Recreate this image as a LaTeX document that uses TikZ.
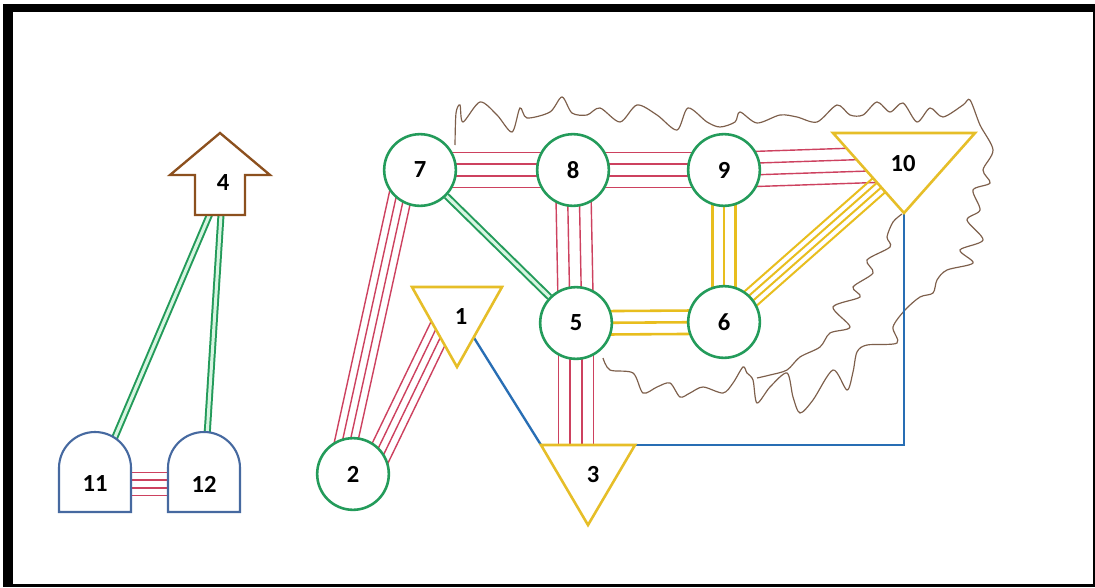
\documentclass[tikz,border=0pt]{standalone}
\usepackage{fontspec}
\setmainfont{Carlito}
\usetikzlibrary{calc,backgrounds}
\definecolor{hubgreen}{RGB}{35,155,90}
\definecolor{palegreen}{RGB}{215,245,225}
\definecolor{redcol}{RGB}{205,65,95}
\definecolor{goldcol}{RGB}{232,190,30}
\definecolor{trigold}{RGB}{230,190,40}
\definecolor{wireblue}{RGB}{40,110,180}
\definecolor{domeblue}{RGB}{70,105,160}
\definecolor{arrowbrown}{RGB}{140,80,30}
\definecolor{cloudbrown}{RGB}{125,95,75}
\begin{document}
\begin{tikzpicture}[x=0.03cm, y=-0.03cm]
		\tikzset{
			tri/.pic = {
					\path [pic actions] (-#1,-30) -- (#1,-30) -- (0,50) -- cycle;
					\coordinate (-nw) at (-#1,-30);
					\coordinate (-ne) at (#1,-30);
					\coordinate (-tip) at (0,50);
				},
			dome/.pic = {
					\path [pic actions] (-36,28) -- (-36,-16) arc[start angle=180, end angle=360, radius=36] -- (36,28) -- cycle;
				},
			up arrow/.pic = {
					\path [pic actions] (-25,30) -- (-25,-10) -- (-50,-10) -- (0,-52) -- (50,-10) -- (25,-10) -- (25,30) -- cycle;
				},
			hub/.style = {circle, draw=hubgreen, fill=white, line width=2.2pt, minimum size=2.15cm, inner sep=0pt, font=\fontsize{21}{21}\selectfont\bfseries},
			tag/.style = {inner sep=0pt, font=\fontsize{21}{21}\selectfont\bfseries},
			tribox/.style = {draw=trigold, fill=white, line width=2.2pt, line join=miter},
			domebox/.style = {draw=domeblue, fill=white, line width=1.8pt},
			arrowbox/.style = {draw=arrowbrown, fill=white, line width=2pt},
			redline/.style = {draw=redcol, line width=1.2pt},
			goldline/.style = {draw=goldcol, line width=2.2pt},
			twin/.style = {draw=hubgreen, double=palegreen, double distance=2.6pt, line width=1.7pt},
			wire/.style = {draw=wireblue, line width=2pt},
			scrawl/.style = {draw=cloudbrown, line width=1pt}
		}
		\useasboundingbox (0,0) rectangle (1095,587);
		\begin{pgfonlayer}{background}
			\fill[white] (0,0) rectangle (1095,587);
			\fill[black] (3,4) rectangle (1095,587);
			\fill[white] (13,12) rectangle (1093,584);
		\end{pgfonlayer}

		% shapes
		\pic[arrowbox] (a4) at (220,185) {up arrow};
		\pic[domebox] (d11) at (95,484) {dome};
		\pic[domebox] (d12) at (204,484) {dome};
		\pic[tribox] (t1) at (457,317) {tri=45};
		\pic[tribox] (t3) at (588,475) {tri=47};
		\pic[tribox] (t10) at (904,163) {tri=71};

		% nodes
		\node[tag] (n4) at (223,183) {4};
		\node[tag] (n11) at (95,484) {11};
		\node[tag] (n12) at (204,484) {12};
		\node[tag] (n1) at (461,317) {1};
		\node[tag] (n3) at (593,475) {3};
		\node[tag] (n10) at (903,164) {10};
		\node[hub] (n2) at (353,474) {2};
		\node[hub] (n7) at (420,170) {7};
		\node[hub] (n8) at (573,170) {8};
		\node[hub] (n9) at (724,170) {9};
		\node[hub] (n5) at (576,323) {5};
		\node[hub] (n6) at (724,322) {6};

		\begin{pgfonlayer}{background}
			% cloud
			\draw[scrawl] plot[smooth, tension=0.5] coordinates {(455,145) (456,113) (460,105) (463,122) (480,102) (497,115) (512,132) (520,108) (527,118) (550,112) (562,97) (572,113) (587,115) (600,108) (620,122) (637,105) (657,115) (677,130) (688,108) (707,122) (720,127) (735,122) (740,112) (757,123) (780,115) (797,117) (817,122) (837,105) (850,115) (863,115) (877,102) (890,112) (903,103) (917,122) (930,108) (943,117) (963,105) (970,100) (980,125) (993,150) (983,170) (990,183) (973,190) (980,210) (967,220) (983,240) (960,250) (973,263) (947,270) (937,280) (933,293) (920,297) (905,310) (893,327) (897,343) (867,345) (857,352) (853,372) (847,390) (833,370) (813,400) (800,413) (793,397) (787,373) (770,387) (757,403) (753,380) (747,373) (743,367) (733,383) (723,393) (703,387) (690,393) (680,397) (670,383) (657,387) (643,393) (633,373) (610,370) (603,358)};
			\draw[scrawl] plot[smooth, tension=0.5] coordinates {(902,214) (893,222) (887,237) (890,247) (867,260) (873,273) (853,287) (860,297) (833,307) (850,327) (830,333) (820,347) (800,357) (787,370) (770,375) (757,378)};

			% red bundles
			\foreach \k in {-15pt,-5pt,5pt,15pt} {
				\draw[redline] ($(n7)!\k!90:(n8)$) -- ($(n8)!\k!-90:(n7)$);
				\draw[redline] ($(n8)!\k!90:(n9)$) -- ($(n9)!\k!-90:(n8)$);
				\draw[redline] ($(n9)!\k!90:(n10)$) -- ($(n10)!\k!-90:(n9)$);
				\draw[redline] ($(n8)!\k!90:(n5)$) -- ($(n5)!\k!-90:(n8)$);
				\draw[redline] ($(n5)!\k!90:(n5 |- n3)$) -- ($(n5 |- n3)!\k!-90:(n5)$);
			}
			\foreach \k in {-9.75pt,-3.25pt,3.25pt,9.75pt} {
				\draw[redline] ($($(n7)+(-14,0)$)!\k!90:($(n2)+(-14,0)$)$) -- ($($(n2)+(-14,0)$)!\k!-90:($(n7)+(-14,0)$)$);
				\draw[redline] ($($(n1)+(-15,0)$)!\k!90:($(n2)+(17,0)$)$) -- ($($(n2)+(17,0)$)!\k!-90:($(n1)+(-15,0)$)$);
				\draw[redline] ($(n11)!\k!90:(n12)$) -- ($(n12)!\k!-90:(n11)$);
			}

			% gold bundles
			\foreach \k in {-10pt,0pt,10pt} {
				\draw[goldline] ($(n5)!\k!90:(n6)$) -- ($(n6)!\k!-90:(n5)$);
				\draw[goldline] ($(n9)!\k!90:(n6)$) -- ($(n6)!\k!-90:(n9)$);
			}
			\foreach \k in {-8pt,-2.7pt,2.7pt,8pt}
				\draw[goldline, line width=1.7pt] ($(n6)!\k!90:(n10)$) -- ($(n10)!\k!-90:(n6)$);

			% green links
			\draw[twin] (n7) -- (n5);
			\draw[twin] (n4) -- (n11);
			\draw[twin] (n4) -- (n12);

			% blue wires
			\draw[wire] (n1) -- (t3-nw);
			\draw[wire] (t3-ne) -| (t10-tip);
		\end{pgfonlayer}
	\end{tikzpicture}
\end{document}
